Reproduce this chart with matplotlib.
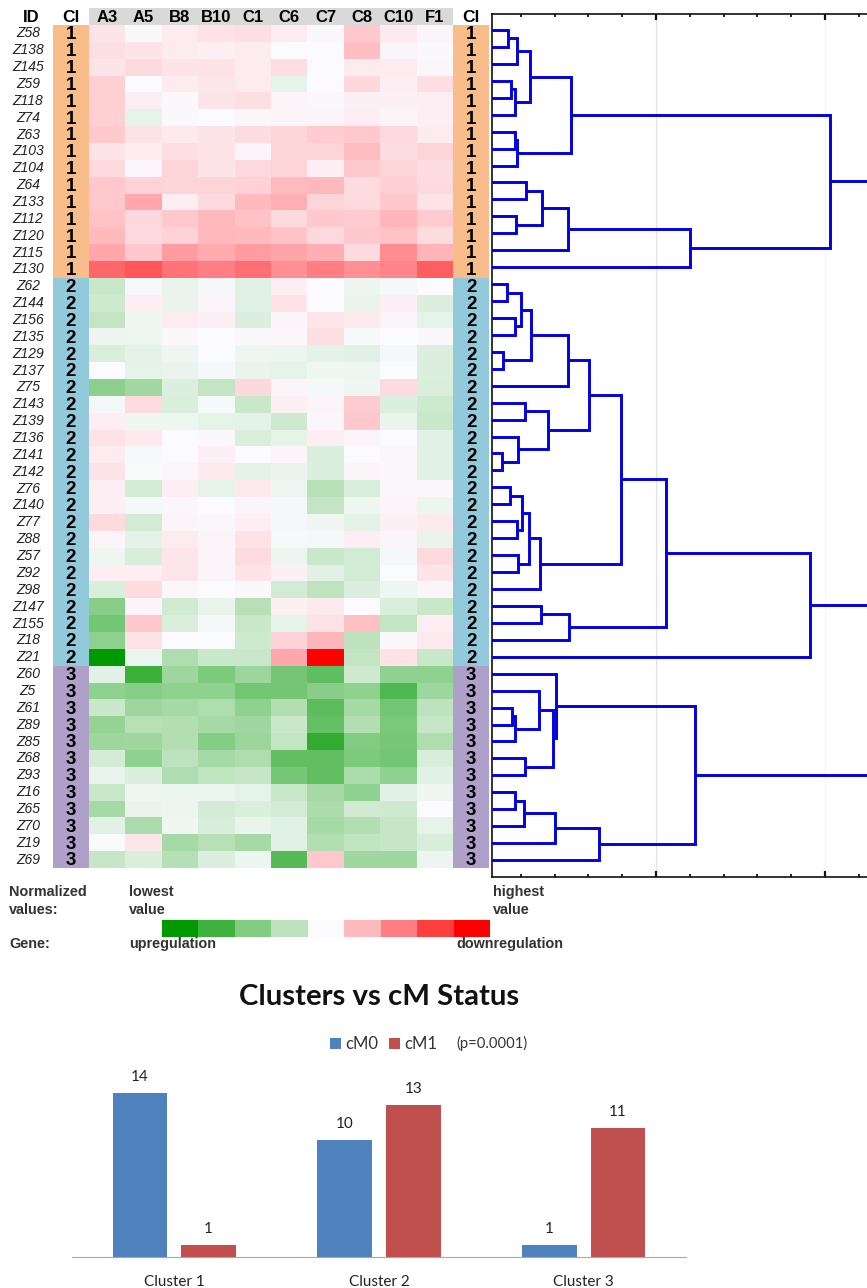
import numpy as np
import matplotlib
matplotlib.use('Agg')
import matplotlib.pyplot as plt
from matplotlib.colors import LinearSegmentedColormap
from matplotlib.patches import Rectangle

W, H = 867, 1288

# heatmap data
genes = ['A3', 'A5', 'B8', 'B10', 'C1', 'C6', 'C7', 'C8', 'C10', 'F1']
ids_1 = ['Z58', 'Z138', 'Z145', 'Z59', 'Z118', 'Z74', 'Z63', 'Z103', 'Z104', 'Z64',
         'Z133', 'Z112', 'Z120', 'Z115', 'Z130']
ids_2 = ['Z62', 'Z144', 'Z156', 'Z135', 'Z129', 'Z137', 'Z75', 'Z143', 'Z139', 'Z136',
         'Z141', 'Z142', 'Z76', 'Z140', 'Z77', 'Z88', 'Z57', 'Z92', 'Z98', 'Z147',
         'Z155', 'Z18', 'Z21']
ids_3 = ['Z60', 'Z5', 'Z61', 'Z89', 'Z85', 'Z68', 'Z93', 'Z16', 'Z65', 'Z70', 'Z19', 'Z69']

values_1 = [
    [.09, .01, .06, .10, .11, .06, .01, .20, .07, .03],
    [.11, .09, .06, .05, .06, 0, 0, .24, .03, .01],
    [.09, .13, .09, .10, .06, .11, 0, .06, .06, .02],
    [.17, 0, .06, .08, .06, -.08, 0, .14, .05, .11],
    [.17, .05, .01, .09, .11, .03, .02, .04, .04, .05],
    [.17, -.08, .01, 0, .02, .03, .03, .05, .03, .05],
    [.19, .10, .07, .09, .12, .15, .18, .20, .14, .06],
    [.09, .06, .11, .10, .03, .15, .15, .24, .12, .15],
    [.13, .02, .15, .09, .14, .15, .04, .20, .15, .12],
    [.20, .16, .15, .15, .16, .25, .26, .12, .17, .13],
    [.20, .33, .05, .13, .25, .30, .15, .13, .20, .10],
    [.22, .14, .20, .26, .22, .13, .20, .18, .27, .18],
    [.25, .14, .16, .26, .25, .22, .14, .20, .22, .12],
    [.33, .20, .38, .32, .38, .35, .30, .13, .45, .28],
    [.60, .66, .55, .50, .57, .43, .50, .43, .48, .63],
]
values_2 = [
    [-.20, -.02, -.07, -.03, -.10, .05, 0, -.06, -.03, 0],
    [-.18, .05, -.07, .03, -.10, .10, 0, -.07, .04, -.12],
    [-.22, -.04, .06, .04, -.12, .03, .08, .07, .03, -.08],
    [-.06, -.05, .01, 0, .01, .02, .11, -.02, 0, .01],
    [-.13, -.09, -.05, 0, -.05, -.06, -.09, -.10, -.03, -.12],
    [0, -.08, -.07, -.03, -.07, -.08, -.04, -.05, 0, -.12],
    [-.45, -.36, -.12, -.22, .14, .03, -.03, -.04, .12, -.13],
    [-.03, .12, -.13, -.02, -.20, .04, .03, .18, -.12, -.18],
    [.05, -.04, -.05, -.08, -.09, -.18, .02, .20, -.07, -.20],
    [.10, .07, 0, .01, -.13, -.08, .05, .03, 0, -.10],
    [.06, -.02, 0, .04, 0, .03, -.13, 0, .02, -.10],
    [.09, -.01, .02, .07, -.09, -.07, -.12, .03, .01, -.10],
    [.05, -.16, .05, -.08, .07, -.05, -.27, -.13, .01, .02],
    [.04, -.03, .02, 0, .03, -.03, -.22, -.05, .03, -.06],
    [.13, -.16, .03, .02, .05, -.03, -.04, -.09, .04, .07],
    [.03, -.09, .06, .03, .10, -.02, -.03, .05, .03, -.07],
    [-.05, -.14, .08, .03, .12, -.06, -.20, -.16, -.03, .13],
    [.05, .05, .08, .03, .09, .04, -.10, -.16, 0, .09],
    [-.13, .12, .02, 0, .01, -.16, -.24, -.12, -.05, .03],
    [-.47, .03, -.17, -.07, -.27, .04, .07, 0, -.13, -.20],
    [-.55, .20, -.13, -.03, -.20, -.08, .10, .23, -.22, .05],
    [-.44, .10, 0, 0, -.18, .16, .27, -.25, .01, .07],
    [-1, -.06, -.30, -.20, -.20, .33, 1, -.22, .10, -.20],
]
values_3 = [
    [-.10, -.76, -.38, -.52, -.39, -.55, -.63, -.18, -.44, -.44],
    [-.44, -.47, -.44, -.44, -.55, -.55, -.47, -.44, -.68, -.38],
    [-.20, -.38, -.35, -.31, -.44, -.29, -.64, -.35, -.56, -.25],
    [-.42, -.27, -.29, -.35, -.37, -.20, -.61, -.29, -.53, -.21],
    [-.38, -.37, -.29, -.49, -.39, -.22, -.80, -.50, -.54, -.30],
    [-.15, -.44, -.25, -.35, -.30, -.62, -.62, -.52, -.56, -.14],
    [-.07, -.12, -.30, -.23, -.21, -.54, -.62, -.32, -.44, -.10],
    [-.20, -.05, -.06, -.06, -.08, -.20, -.34, -.44, -.10, -.04],
    [-.35, -.07, -.06, -.15, -.13, -.16, -.32, -.17, -.18, 0],
    [-.10, -.32, -.04, -.14, -.07, -.10, -.35, -.29, -.21, -.08],
    [-.01, .08, -.35, -.27, -.35, -.10, -.29, -.23, -.21, -.14],
    [-.21, -.13, -.28, -.12, -.06, -.66, .20, -.37, -.37, -.06],
]

heat_colors = ['#009900', '#3FB13F', '#82CC82', '#BCE2BC', '#FBFBFF',
               '#FFBBBF', '#FF8085', '#FF4040', '#FF0000']
cluster_colors = {1: '#F8BD8A', 2: '#92CADC', 3: '#AFA0CA'}

# dendrogram merges: (height, left, right), leaves are ids
tree_1a = (49.8,
           (25.5,
            (17.6, (12.7, 'Z58', 'Z138'), 'Z145'),
            (16.6, (14.0, 'Z59', 'Z118'), 'Z74')),
           (17.6, (16.6, 'Z63', 'Z103'), 'Z104'))
tree_1b = (120.4,
           (48.2,
            (32.8, (22.9, 'Z64', 'Z133'), (17.0, 'Z112', 'Z120')),
            'Z115'),
           'Z130')
tree_1 = (203.0, tree_1a, tree_1b)

tree_2a = (60.5,
           (47.8,
            (26.1,
             (20.0, (11.7, 'Z62', 'Z144'), (16.6, 'Z156', 'Z135')),
             (9.7, 'Z129', 'Z137')),
            'Z75'),
           (36.4,
            (22.5, 'Z143', 'Z139'),
            (18.6, 'Z136', (8.7, 'Z141', 'Z142'))))
tree_2b = (31.4,
           (24.9,
            (20.6, (13.6, 'Z76', 'Z140'), (18.0, 'Z77', 'Z88')),
            (18.6, 'Z57', 'Z92')),
           'Z98')
tree_2 = (191.0,
          (106.2,
           (79.5, tree_2a, tree_2b),
           (48.6, (32.0, 'Z147', 'Z155'), 'Z18')),
          'Z21')

tree_3a = (40.9,
           'Z60',
           (38.8,
            (31.0, 'Z5', (16.6, (14.8, 'Z61', 'Z89'), 'Z85')),
            (22.5, 'Z68', 'Z93')))
tree_3b = (66.4,
           (40.0, (22.1, (16.6, 'Z16', 'Z65'), 'Z70'), 'Z19'),
           'Z69')
tree_3 = (123.0, tree_3a, tree_3b)
tree_all = (270.0, tree_1, (250.0, tree_2, tree_3))

# bar chart data
clusters = ['Cluster 1', 'Cluster 2', 'Cluster 3']
cm0 = [14, 10, 1]
cm1 = [1, 13, 11]


def px_axes(fig, left, top, right, bottom):
    return fig.add_axes([left / W, 1 - bottom / H, (right - left) / W, (bottom - top) / H])


plt.rcParams['font.family'] = ['Liberation Sans', 'DejaVu Sans']

fig = plt.figure(figsize=(W / 100, H / 100), dpi=100)

ids = ids_1 + ids_2 + ids_3
matrix = np.array(values_1 + values_2 + values_3)
cluster_of = [1] * len(ids_1) + [2] * len(ids_2) + [3] * len(ids_3)
cmap = LinearSegmentedColormap.from_list('heat', heat_colors)

# heatmap with the two cluster columns, 1 unit = one cell
ax = px_axes(fig, 52.6, 8.1, 489.4, 868)
ax.pcolormesh(np.arange(11), np.arange(51), matrix, cmap=cmap, vmin=-1, vmax=1)
ax.add_patch(Rectangle((0, -1), 10, 1, color='#D9D9D9', lw=0))
for i, (name, cl) in enumerate(zip(ids, cluster_of)):
    ax.add_patch(Rectangle((-1, i), 1, 1, color=cluster_colors[cl], lw=0))
    ax.add_patch(Rectangle((10, i), 1, 1, color=cluster_colors[cl], lw=0))
    ax.text(-0.5, i + 0.58, str(cl), ha='center', va='center', fontsize=13.5, fontweight='bold')
    ax.text(10.5, i + 0.58, str(cl), ha='center', va='center', fontsize=13.5, fontweight='bold')
    ax.text(-1.68, i + 0.5, name, ha='center', va='center', fontsize=10, style='italic',
            color='#222222', clip_on=False)
for j, g in enumerate(genes):
    ax.text(j + 0.5, -0.46, g, ha='center', va='center', fontsize=12, fontweight='bold')
ax.text(-0.5, -0.46, 'Cl', ha='center', va='center', fontsize=12.5, fontweight='bold')
ax.text(10.5, -0.46, 'Cl', ha='center', va='center', fontsize=12.5, fontweight='bold')
ax.text(-1.6, -0.46, 'ID', ha='center', va='center', fontsize=12, fontweight='bold', clip_on=False)
ax.set_xlim(-1, 11)
ax.set_ylim(50, -1)
ax.axis('off')

# dendrogram
dax = px_axes(fig, 492, 14, W + 1, 877)
leaf_pos = {name: i for i, name in enumerate(ids)}


def draw_node(node):
    if isinstance(node, str):
        return 0.0, leaf_pos[node]
    h, left, right = node
    h1, y1 = draw_node(left)
    h2, y2 = draw_node(right)
    dax.plot([h1, h, h, h2], [y1, y1, y2, y2], color='#0000E0', lw=2.1,
             solid_joinstyle='miter', solid_capstyle='butt', zorder=3)
    return h, (y1 + y2) / 2


draw_node(tree_all)
dax.set_xlim(3, 225.4)
dax.set_ylim(50.0, -0.944)
dax.set_xticks([100, 200])
dax.set_xticks([20, 40, 60, 80, 120, 140, 160, 180, 220], minor=True)
dax.tick_params(axis='x', which='major', direction='in', top=True, bottom=True,
                length=4.5, width=1.6, labelbottom=False, color='#111111')
dax.tick_params(axis='x', which='minor', direction='in', top=True, bottom=True,
                length=2, width=1.3, color='#111111')
dax.set_yticks([])
dax.axvline(100, color='#E2E2E2', lw=0.9, zorder=1)
dax.axvline(200, color='#F6F6F6', lw=0.9, zorder=1)
for side in ['top', 'bottom', 'left']:
    dax.spines[side].set_linewidth(1.2)
    dax.spines[side].set_color('#111111')
dax.spines['right'].set_visible(False)

# color key
kax = px_axes(fig, 162, 920, 490, 937)
kax.pcolormesh(np.arange(10), [0, 1], np.linspace(-1, 1, 9).reshape(1, -1), cmap=cmap, vmin=-1, vmax=1)
kax.axis('off')

for x, y, s in [(9, 892, 'Normalized'), (9, 910, 'values:'), (9, 944, 'Gene:'),
                (129, 892, 'lowest'), (129, 910, 'value'), (129, 944, 'upregulation'),
                (493, 892, 'highest'), (493, 910, 'value'), (456, 944, 'downregulation')]:
    fig.text(x / W, 1 - y / H, s, ha='left', va='center', fontsize=10.4, fontweight='bold', color='#333333')

# bar chart
bax = px_axes(fig, 72, 1070, 686, 1257)
pos = np.arange(3)
bw = 0.268
b0 = bax.bar(pos - 0.168, cm0, bw, color='#4F81BD')
b1 = bax.bar(pos + 0.168, cm1, bw, color='#C0504D')
for bars in (b0, b1):
    for r in bars:
        bax.annotate(str(int(r.get_height())), (r.get_x() + r.get_width() / 2, r.get_height()),
                     xytext=(0, 6.5), textcoords='offset points', ha='center', va='bottom',
                     fontsize=11, family='Lato', color='#222222')
bax.set_xlim(-0.5, 2.5)
bax.set_ylim(0, 187 / 11.71)
bax.set_xticks(pos)
bax.set_xticklabels(clusters, fontsize=11, family='Lato', color='#222222')
bax.tick_params(axis='x', length=0, pad=13)
bax.set_yticks([])
for side in ['top', 'right', 'left']:
    bax.spines[side].set_visible(False)
bax.spines['bottom'].set_color('#A8A8A8')

fig.text(379 / W, 1 - 997 / H, 'Clusters vs cM Status', ha='center', va='center',
         fontsize=21.2, fontweight='bold', family='Lato', color='#111111')
leg = [(330, '#4F81BD', 'cM0'), (389, '#C0504D', 'cM1')]
for x, c, s in leg:
    fig.patches.append(Rectangle((x / W, 1 - 1049 / H), 11 / W, 11 / H, transform=fig.transFigure,
                                 color=c, lw=0))
    fig.text((x + 15) / W, 1 - 1044 / H, s, ha='left', va='center', fontsize=12, family='Lato', color='#333333')
fig.text(456 / W, 1 - 1043 / H, '(p=0.0001)', ha='left', va='center', fontsize=10.6, family='Lato', color='#333333')

fig.savefig('out.png', dpi=100)
